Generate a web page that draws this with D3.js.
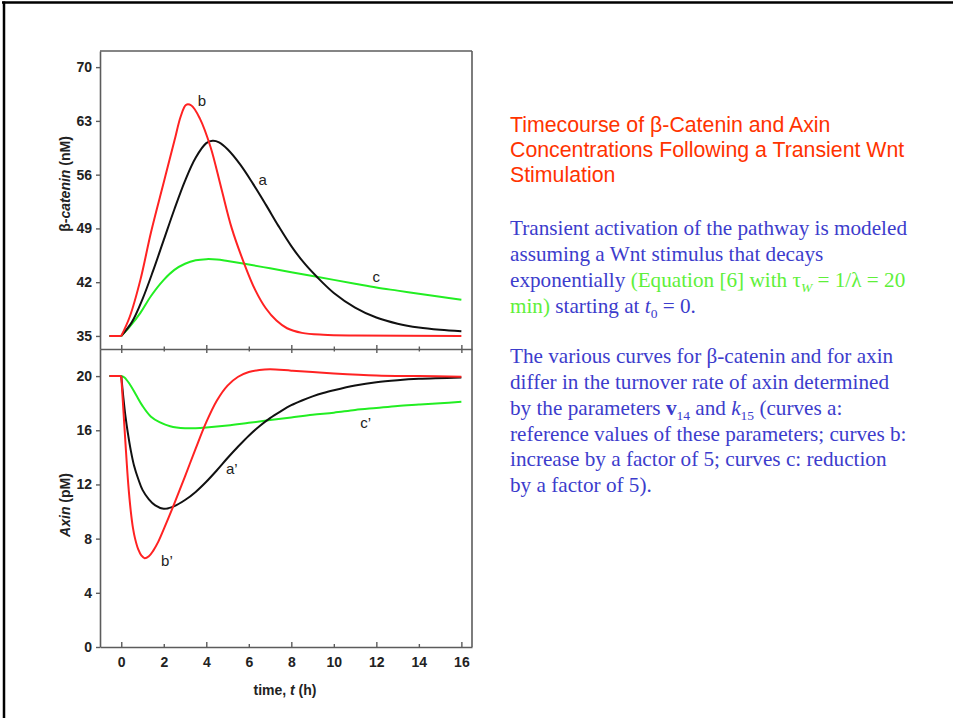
<!DOCTYPE html>
<html><head><meta charset="utf-8">
<script src="https://cdn.jsdelivr.net/npm/d3@7"></script>
<style>body{margin:0;background:#fff}svg{display:block}</style>
</head><body>
<svg id="chart" width="953" height="718"></svg>
<script>
// Tick values
const timeTicks = [0, 2, 4, 6, 8, 10, 12, 14, 16];
const cateninTicks = [35, 42, 49, 56, 63, 70];
const axinTicks = [0, 4, 8, 12, 16, 20];

// beta-catenin (nM) vs time (h): curves a, b, c
const cateninA = [[-0.55,35],[0,35],[0.5,36.8],[1,39.8],[1.5,43.5],[2,47.5],[2.5,51.5],[3,55.2],[3.5,58.2],[4,60.1],[4.3,60.4],[4.6,60.2],[5,59.3],[5.6,57.3],[6.2,54.8],[6.8,52.1],[7.4,49.3],[8,46.7],[8.6,44.5],[9.2,42.7],[10,40.6],[11,38.7],[12,37.4],[13,36.6],[14,36.1],[15,35.8],[16,35.6]];
const cateninB = [[-0.55,35],[0,35],[0.4,37.5],[0.9,42.3],[1.4,48.5],[2,55.0],[2.5,60.4],[2.8,63.6],[3.05,65.1],[3.3,65.0],[3.7,63.3],[4.2,59.6],[4.7,54.3],[5.2,49.0],[5.8,44.3],[6.3,41.0],[6.8,38.6],[7.3,37.0],[7.8,36.0],[8.5,35.4],[9.5,35.15],[11,35.05],[16,35.0]];
const cateninC = [[-0.55,35],[0,35],[0.4,36.2],[0.9,38.0],[1.4,40.2],[2,42.3],[2.5,43.6],[3,44.4],[3.5,44.85],[4,45.0],[4.5,44.95],[5,44.75],[6,44.3],[7,43.8],[8,43.3],[9,42.8],[10,42.3],[11,41.8],[12,41.3],[13,40.9],[14,40.5],[15,40.1],[16,39.7]];

// Axin (pM) vs time (h): curves a', b', c'
const axinA = [[-0.55,20],[0,20],[0.1,18.4],[0.2,17.0],[0.3,15.9],[0.45,14.5],[0.6,13.4],[0.8,12.4],[1,11.6],[1.3,10.9],[1.6,10.45],[2,10.2],[2.5,10.4],[3,10.85],[3.5,11.45],[4,12.2],[4.5,13.05],[5,13.95],[5.5,14.8],[6,15.6],[6.5,16.3],[7,16.9],[7.5,17.4],[8,17.85],[8.5,18.2],[9,18.5],[9.5,18.75],[10,18.95],[11,19.3],[12,19.55],[13,19.7],[14,19.8],[16,19.9]];
const axinB = [[-0.55,20],[0,20],[0.1,17.5],[0.2,15.0],[0.33,12.0],[0.45,10.0],[0.55,8.8],[0.65,8.0],[0.8,7.2],[0.95,6.75],[1.1,6.55],[1.3,6.7],[1.5,7.1],[1.75,7.8],[2,8.7],[2.5,10.6],[3,12.6],[3.5,14.65],[4,16.6],[4.5,18.2],[5,19.3],[5.5,19.95],[6,20.3],[6.5,20.45],[7,20.5],[8,20.4],[9,20.3],[10,20.2],[12,20.05],[14,20.0],[16,19.95]];
const axinC = [[-0.55,20],[0,20],[0.15,19.9],[0.4,19.4],[0.7,18.6],[1,17.8],[1.4,17.0],[1.8,16.6],[2.3,16.3],[3,16.15],[3.5,16.15],[4,16.2],[5,16.35],[6,16.55],[7,16.75],[8,16.95],[9,17.15],[10,17.3],[11,17.5],[12,17.65],[13,17.8],[14,17.9],[15,18.0],[16,18.1]];

const curveColors = {a: "#111111", b: "#ff2222", c: "#22ee22"};

const svg = d3.select("#chart");
const axisColor = "#5c5c5c";
const sans = "Liberation Sans, Arial, sans-serif";
const serif = "Liberation Serif, Times New Roman, serif";

// slide frame (top and left edges)
svg.append("line").attr("x1", 2).attr("x2", 953).attr("y1", 2.5).attr("y2", 2.5)
  .attr("stroke", "#000").attr("stroke-width", 2.5);
svg.append("line").attr("x1", 4).attr("x2", 4).attr("y1", 1.5).attr("y2", 718)
  .attr("stroke", "#000").attr("stroke-width", 2.5);

const x = d3.scaleLinear().domain([-1, 16.5]).range([100, 472]);
const yTop = d3.scaleLinear().domain([33.3, 72.1]).range([349, 51]);
const yBot = d3.scaleLinear().domain([0, 22]).range([647, 349]);

function styleAxis(g) {
  g.selectAll("path.domain").attr("stroke", axisColor).attr("stroke-width", 1.6);
  g.selectAll(".tick line").attr("stroke", axisColor).attr("stroke-width", 1.4);
  g.selectAll(".tick text").attr("fill", "#222").attr("font-family", sans)
    .attr("font-size", 14).attr("font-weight", "bold");
}

// left axes
svg.append("g").attr("transform", "translate(100,0)")
  .call(d3.axisLeft(yTop).tickValues(cateninTicks).tickSize(4).tickSizeOuter(0).tickPadding(4))
  .call(styleAxis);
svg.append("g").attr("transform", "translate(100,0)")
  .call(d3.axisLeft(yBot).tickValues(axinTicks).tickSize(4).tickSizeOuter(0).tickPadding(4))
  .call(styleAxis);

// bottom time axis, ticks pointing inward
svg.append("g").attr("transform", "translate(0,647)")
  .call(d3.axisBottom(x).tickValues(timeTicks).tickSizeInner(-4).tickSizeOuter(0).tickPadding(10))
  .call(styleAxis)
  .call(g => g.selectAll(".tick line").attr("y2", d => d % 4 === 0 ? -5 : -3));

// shared divider between the two panels, ticks crossing both ways
svg.append("g").attr("transform", "translate(0,349)")
  .call(d3.axisBottom(x).tickValues(timeTicks).tickSizeOuter(0).tickFormat(""))
  .call(styleAxis)
  .call(g => g.selectAll(".tick line")
    .attr("y1", d => d % 4 === 0 ? -4 : -2.5)
    .attr("y2", d => d % 4 === 0 ? 4 : 2.5));

// top and right edges of the box
svg.append("line").attr("x1", 100).attr("x2", 472).attr("y1", 51).attr("y2", 51)
  .attr("stroke", axisColor).attr("stroke-width", 1.6);
svg.append("line").attr("x1", 472).attr("x2", 472).attr("y1", 51).attr("y2", 647)
  .attr("stroke", axisColor).attr("stroke-width", 1.6);

// curves: straight baseline before the stimulus, smooth response after it
function curvePath(data, yScale) {
  const pre = data.filter(d => d[0] <= 0);
  const post = data.filter(d => d[0] >= 0);
  const straight = d3.line().x(d => x(d[0])).y(d => yScale(d[1]));
  const smooth = d3.line().x(d => x(d[0])).y(d => yScale(d[1])).curve(d3.curveCatmullRom.alpha(0.5));
  return straight(pre) + smooth(post);
}

[[axinC, "c"], [axinA, "a"], [axinB, "b"]].forEach(([data, k]) => {
  svg.append("path").attr("d", curvePath(data, yBot)).attr("fill", "none")
    .attr("stroke", curveColors[k]).attr("stroke-width", 2).attr("stroke-linejoin", "round");
});
[[cateninC, "c"], [cateninA, "a"], [cateninB, "b"]].forEach(([data, k]) => {
  svg.append("path").attr("d", curvePath(data, yTop)).attr("fill", "none")
    .attr("stroke", curveColors[k]).attr("stroke-width", 2).attr("stroke-linejoin", "round");
});

// curve labels
const curveLabels = [
  {text: "b", t: 3.8, v: 65.6, panel: "top"},
  {text: "a", t: 6.65, v: 55.4, panel: "top"},
  {text: "c", t: 12.0, v: 42.7, panel: "top"},
  {text: "a\u2019", t: 5.2, v: 13.2, panel: "bot"},
  {text: "b\u2019", t: 2.15, v: 6.4, panel: "bot"},
  {text: "c\u2019", t: 11.5, v: 16.6, panel: "bot"}
];
svg.append("g").selectAll("text").data(curveLabels).join("text")
  .attr("x", d => x(d.t))
  .attr("y", d => (d.panel === "top" ? yTop(d.v) : yBot(d.v)))
  .attr("text-anchor", "middle").attr("dominant-baseline", "central")
  .attr("font-family", sans).attr("font-size", 15)
  .attr("fill", "#222").text(d => d.text);

// axis titles
const yt1 = svg.append("text").attr("transform", "translate(70,184) rotate(-90)")
  .attr("text-anchor", "middle").attr("font-family", sans).attr("font-size", 14)
  .attr("font-weight", "bold").attr("fill", "#222");
yt1.append("tspan").text("\u03b2-");
yt1.append("tspan").attr("font-style", "italic").text("catenin");
yt1.append("tspan").text(" (nM)");

const yt2 = svg.append("text").attr("transform", "translate(70,505) rotate(-90)")
  .attr("text-anchor", "middle").attr("font-family", sans).attr("font-size", 14)
  .attr("font-weight", "bold").attr("fill", "#222");
yt2.append("tspan").attr("font-style", "italic").text("Axin");
yt2.append("tspan").text(" (pM)");

const xt = svg.append("text").attr("x", 285).attr("y", 695)
  .attr("text-anchor", "middle").attr("font-family", sans).attr("font-size", 14)
  .attr("font-weight", "bold").attr("fill", "#222");
xt.append("tspan").text("time, ");
xt.append("tspan").attr("font-style", "italic").text("t");
xt.append("tspan").text(" (h)");

// explanatory text on the right
const red = "#ff3300", blue = "#3c3ccc", green = "#5ef03a";
const titleLines = [
  "Timecourse of \u03b2-Catenin and Axin",
  "Concentrations Following a Transient Wnt",
  "Stimulation"
];
const titleBaselines = [131.5, 157, 182];
titleLines.forEach((s, i) => {
  svg.append("text").attr("x", 510).attr("y", titleBaselines[i])
    .attr("font-family", sans).attr("font-size", 21.3).attr("fill", red).text(s);
});

const bodyLines = [
  {y: 235, segs: [{t: "Transient activation of the pathway is modeled"}]},
  {y: 261, segs: [{t: "assuming a Wnt stimulus that decays"}]},
  {y: 287, segs: [{t: "exponentially "}, {t: "(Equation [6] with \u03c4", c: green}, {t: "W", c: green, sub: true, it: true}, {t: " = 1/\u03bb = 20", c: green}]},
  {y: 313, segs: [{t: "min)", c: green}, {t: " starting at "}, {t: "t", it: true}, {t: "0", sub: true}, {t: " = 0."}]},
  {y: 363, segs: [{t: "The various curves for \u03b2-catenin and for axin"}]},
  {y: 389, segs: [{t: "differ in the turnover rate of axin determined"}]},
  {y: 415, segs: [{t: "by the parameters "}, {t: "v", b: true}, {t: "14", sub: true}, {t: " and "}, {t: "k", it: true}, {t: "15", sub: true}, {t: " (curves a:"}]},
  {y: 441, segs: [{t: "reference values of these parameters; curves b:"}]},
  {y: 466, segs: [{t: "increase by a factor of 5; curves c: reduction"}]},
  {y: 492, segs: [{t: "by a factor of 5)."}]}
];
bodyLines.forEach(line => {
  const txt = svg.append("text").attr("x", 510).attr("y", line.y)
    .attr("font-family", serif).attr("font-size", 21.2).attr("fill", blue);
  let shifted = false;
  line.segs.forEach(s => {
    const sp = txt.append("tspan").text(s.t);
    if (s.c) sp.attr("fill", s.c);
    if (s.it) sp.attr("font-style", "italic");
    if (s.b) sp.attr("font-weight", "bold");
    if (s.sub) {
      sp.attr("font-size", 13.5).attr("dy", shifted ? 0 : 5);
      shifted = true;
    } else if (shifted) {
      sp.attr("dy", -5);
      shifted = false;
    }
  });
});
</script>
</body></html>
